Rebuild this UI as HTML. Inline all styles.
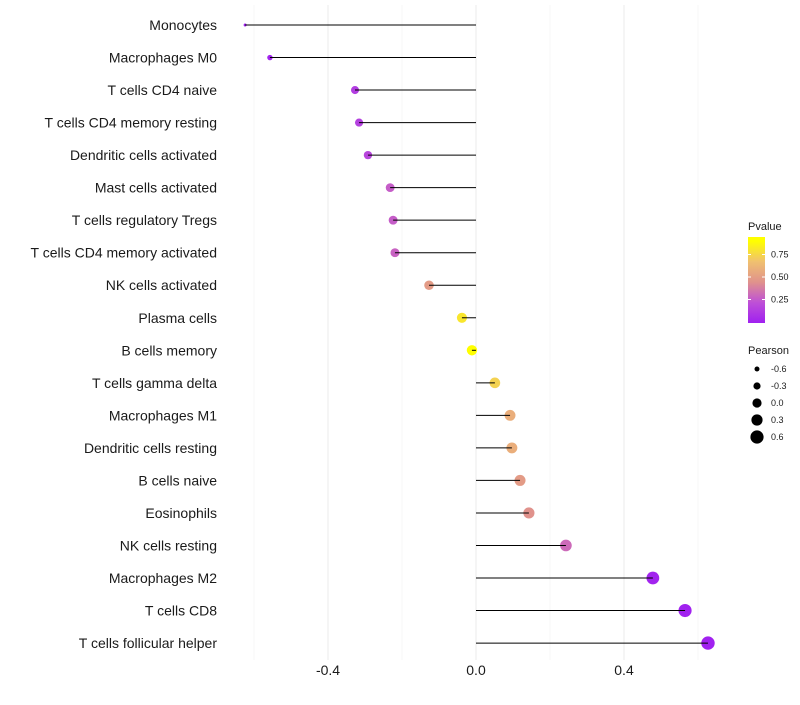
<!DOCTYPE html>
<html><head><meta charset="utf-8"><style>
body{margin:0;background:#fff;font-family:"Liberation Sans",sans-serif;}
</style></head><body>
<svg id="chart" width="800" height="700" xmlns="http://www.w3.org/2000/svg" font-family="Liberation Sans, sans-serif"></svg>
<script>
const categories=["Monocytes","Macrophages M0","T cells CD4 naive","T cells CD4 memory resting","Dendritic cells activated","Mast cells activated","T cells regulatory  Tregs","T cells CD4 memory activated","NK cells activated","Plasma cells","B cells memory","T cells gamma delta","Macrophages M1","Dendritic cells resting","B cells naive","Eosinophils","NK cells resting","Macrophages M2","T cells CD8","T cells follicular helper"];
const pearson=[-0.624,-0.557,-0.327,-0.316,-0.292,-0.232,-0.224,-0.219,-0.127,-0.038,-0.011,0.051,0.092,0.097,0.119,0.143,0.243,0.478,0.565,0.627];
const pvalue=[0.0,0.02,0.15,0.17,0.2,0.3,0.3,0.32,0.55,0.9,1.0,0.82,0.65,0.65,0.55,0.5,0.35,0.02,0.01,0.005];
const xTicks=[-0.4,0.0,0.4];
const xTickLabels=["-0.4","0.0","0.4"];
const xMinor=[-0.6,-0.2,0.2,0.6];
const pTicks=[0.25,0.5,0.75];
const pTickLabels=["0.25","0.50","0.75"];
const sizeLegend=[-0.6,-0.3,0.0,0.3,0.6];
const sizeLegendLabels=["-0.6","-0.3","0.0","0.3","0.6"];

const svg=document.getElementById('chart');
const NS='http://www.w3.org/2000/svg';
function mk(t,a,p){const e=document.createElementNS(NS,t);for(const k in a)e.setAttribute(k,a[k]);(p||svg).appendChild(e);return e;}
const x=v=>476+v*370;
const y=i=>25+i*32.53;
const pMin=Math.min(...pearson),pMax=Math.max(...pearson);
const r=v=>{const t=Math.max(0,Math.min(1,(v-pMin)/(pMax-pMin)));return 1.5+5.2*Math.sqrt(t);};
const stops=[[0,[160,32,240]],[0.25,[190,80,215]],[0.5,[224,146,140]],[0.75,[240,192,112]],[1,[255,255,0]]];
function col(p){p=Math.max(0,Math.min(1,p));for(let i=1;i<stops.length;i++){if(p<=stops[i][0]){const a=stops[i-1],b=stops[i];const t=(p-a[0])/(b[0]-a[0]);const c=a[1].map((v,k)=>Math.round(v+(b[1][k]-v)*t));return `rgb(${c})`;}}return 'rgb(255,255,0)';}

xMinor.forEach(v=>{const l=mk('line',{x1:x(v),x2:x(v),y1:5,y2:660,stroke:'#f2f2f2','stroke-width':0.6});});
xTicks.forEach((v,i)=>{const l=mk('line',{x1:x(v),x2:x(v),y1:5,y2:660,stroke:'#ebebeb','stroke-width':1});
const t=mk('text',{x:x(v),y:675,'text-anchor':'middle','font-size':14,fill:'#1a1a1a'});t.textContent=xTickLabels[i];});
categories.forEach((c,i)=>{
const t=mk('text',{x:217,y:y(i)+5,'text-anchor':'end','font-size':14,fill:'#1a1a1a'});t.textContent=c;
const d=mk('circle',{cx:x(pearson[i]),cy:y(i),r:r(pearson[i]),fill:col(pvalue[i])});
const l=mk('line',{x1:x(0),x2:x(pearson[i]),y1:y(i),y2:y(i),stroke:'#000','stroke-width':1});
});
const g=mk('g',{});
const lt=mk('text',{x:748,y:230,'font-size':11,fill:'#1a1a1a'},g);lt.textContent='Pvalue';
const defs=mk('defs',{});const lg=mk('linearGradient',{id:'pg',x1:0,y1:1,x2:0,y2:0},defs);
const py=p=>322-p*90;
stops.forEach(s=>mk('stop',{offset:s[0]*0.95,'stop-color':col(s[0])},lg));
mk('rect',{x:748,y:237,width:17,height:86,fill:'url(#pg)'},g);
pTicks.forEach((p,i)=>{mk('line',{x1:748,x2:751,y1:py(p),y2:py(p),stroke:'#fff'},g);mk('line',{x1:762,x2:765,y1:py(p),y2:py(p),stroke:'#fff'},g);const t=mk('text',{x:771,y:py(p)+3,'font-size':9,fill:'#1a1a1a'},g);t.textContent=pTickLabels[i];});
const g2=mk('g',{});
const st=mk('text',{x:748,y:354,'font-size':11,fill:'#1a1a1a'},g2);st.textContent='Pearson';
const legR=[2.5,3.6,4.6,5.6,6.6];
sizeLegend.forEach((v,i)=>{const cy=369+i*17;const c=mk('circle',{cx:757,cy:cy,r:legR[i],fill:'#000'},g2);const t=mk('text',{x:771,y:cy+3,'font-size':9,fill:'#1a1a1a'},g2);t.textContent=sizeLegendLabels[i];});
</script>
</body></html>
